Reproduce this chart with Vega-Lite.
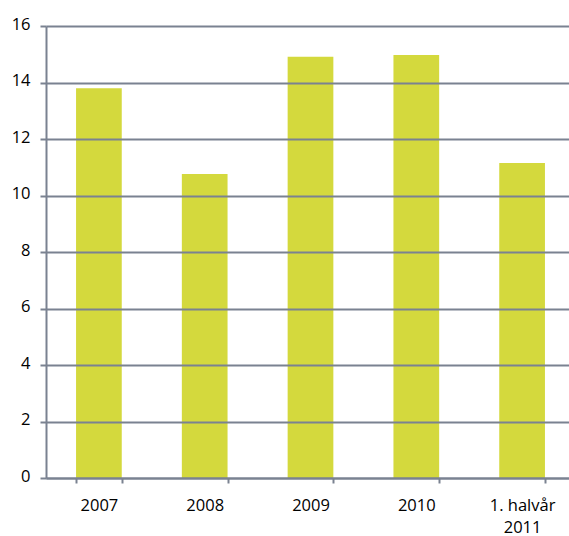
{
  "$schema": "https://vega.github.io/schema/vega-lite/v6.json",
  "width": 523,
  "height": 452,
  "autosize": {"type": "none"},
  "padding": {"left": 46, "top": 26, "right": 0, "bottom": 58},
  "background": "white",
  "config": {
    "view": {"stroke": null},
    "font": "Open Sans"
  },
  "data": {
    "values": [
      {"period": "2007", "value": 13.8},
      {"period": "2008", "value": 10.76},
      {"period": "2009", "value": 14.91},
      {"period": "2010", "value": 14.97},
      {"period": "1. halvår 2011", "value": 11.15}
    ]
  },
  "mark": {"type": "bar", "color": "#d4d93d"},
  "encoding": {
    "x": {
      "field": "period",
      "type": "nominal",
      "sort": null,
      "scale": {"range": [0, 529], "paddingInner": 0.568, "paddingOuter": 0.284},
      "axis": {
        "title": null,
        "labelAngle": 0,
        "labelFont": "Open Sans",
        "labelFontSize": 16.5,
        "labelFontWeight": 500,
        "labelColor": "#000000",
        "labelPadding": 14,
        "labelBaseline": "top",
        "labelLineHeight": 22,
        "labelExpr": "datum.label == '1. halvår 2011' ? ['1. halvår', '2011'] : datum.label",
        "tickBand": "extent",
        "tickSize": 5,
        "tickWidth": 2,
        "tickColor": "#7a8291",
        "domainColor": "#7a8291",
        "domainWidth": 2,
        "grid": false,
        "zindex": 1
      }
    },
    "y": {
      "field": "value",
      "type": "quantitative",
      "scale": {"domain": [0, 16], "nice": false},
      "axis": {
        "title": null,
        "values": [0, 2, 4, 6, 8, 10, 12, 14, 16],
        "labelFont": "Open Sans",
        "labelFontSize": 16.5,
        "labelFontWeight": 500,
        "labelColor": "#000000",
        "labelPadding": 10,
        "labelOffset": -2,
        "tickSize": 6,
        "tickWidth": 2,
        "tickColor": "#7a8291",
        "domainColor": "#7a8291",
        "domainWidth": 2,
        "grid": true,
        "gridColor": "#7a8291",
        "gridWidth": 2,
        "gridOpacity": 1,
        "zindex": 1
      }
    }
  }
}
